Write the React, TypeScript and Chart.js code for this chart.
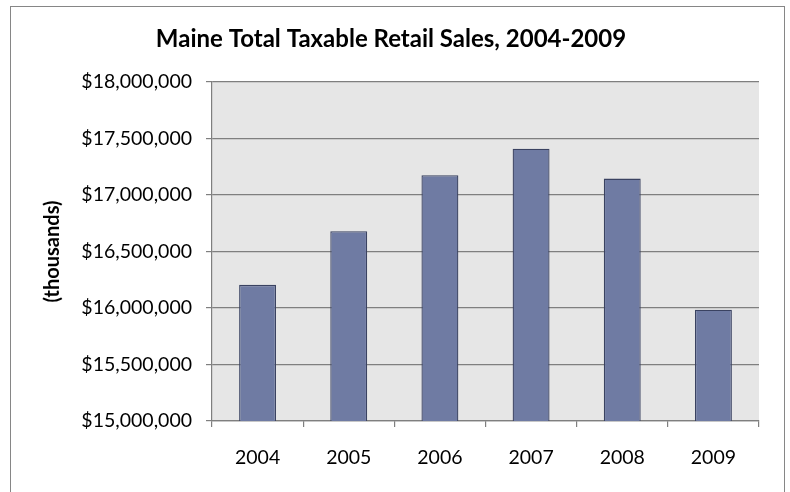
import React, { useEffect, useRef } from "react";
import { Chart, registerables } from "chart.js";

Chart.register(...registerables);

const years: string[] = ["2004", "2005", "2006", "2007", "2008", "2009"];
const sales: number[] = [16205000, 16680000, 17175000, 17410000, 17145000, 15985000];
const yMin = 15000000;
const yMax = 18000000;
const yStep = 500000;
const titleText = "Maine Total Taxable Retail Sales, 2004-2009";
const yAxisTitle = "(thousands)";

const FONT = "Lato, 'Open Sans', sans-serif";

const plotBg = {
  id: "plotBg",
  beforeDraw(chart: any) {
    const { ctx, chartArea } = chart;
    ctx.save();
    ctx.fillStyle = "#e6e6e6";
    ctx.fillRect(chartArea.left, chartArea.top, chartArea.right - chartArea.left, chartArea.bottom - chartArea.top);
    ctx.restore();
  },
};

export default function App() {
  const ref = useRef<HTMLCanvasElement | null>(null);

  useEffect(() => {
    if (!ref.current) return;
    const chart = new Chart(ref.current, {
      type: "bar",
      data: {
        labels: years,
        datasets: [
          {
            data: sales,
            backgroundColor: "#6f7ba3",
            borderColor: "#3a4261",
            borderWidth: 1.3,
            barPercentage: 0.405,
            categoryPercentage: 1,
          },
        ],
      },
      plugins: [plotBg],
      options: {
        responsive: false,
        animation: false,
        layout: { padding: { left: 23, right: 31, top: 0, bottom: 0 } },
        plugins: {
          legend: { display: false },
          tooltip: { enabled: false },
          title: {
            display: true,
            text: titleText,
            color: "#000",
            font: { family: FONT, size: 24, weight: "bold", lineHeight: 1.2 },
            padding: { top: 24.6, bottom: 28.6 },
          },
        },
        scales: {
          x: {
            grid: {
              drawOnChartArea: false,
              drawTicks: true,
              tickLength: 6,
              color: "#7f7f7f",
              lineWidth: 1.2,
            },
            border: { display: true, color: "#7f7f7f", width: 1.2 },
            ticks: {
              color: "#000",
              padding: 19,
              font: { family: FONT, size: 19.5 },
            },
            afterFit(scale: any) {
              scale.height = 71;
            },
          },
          y: {
            min: yMin,
            max: yMax,
            grid: {
              color: "#7f7f7f",
              lineWidth: 1.2,
              tickLength: 6,
              drawTicks: true,
            },
            border: { display: true, color: "#7f7f7f", width: 1.2 },
            ticks: {
              stepSize: yStep,
              color: "#000",
              padding: 14,
              font: { family: FONT, size: 19.5 },
              callback: (v: any) => "$" + Number(v).toLocaleString("en-US"),
            },
            title: {
              display: true,
              text: yAxisTitle,
              color: "#000",
              font: { family: FONT, size: 20, weight: "bold", lineHeight: 1.2 },
              padding: { top: 18, bottom: 0 },
            },
            afterFit(scale: any) {
              scale.width = 189;
            },
          },
        },
      },
    });
    return () => chart.destroy();
  }, []);

  return (
    <div style={{ position: "fixed", left: 0, top: 0, width: 790, height: 492, background: "#fff", overflow: "hidden" }}>
      <canvas ref={ref} width={790} height={492} style={{ display: "block" }} />
      <div
        style={{
          position: "absolute",
          left: 10,
          top: 6,
          width: 773,
          height: 500,
          border: "1px solid #868686",
          pointerEvents: "none",
        }}
      />
    </div>
  );
}
